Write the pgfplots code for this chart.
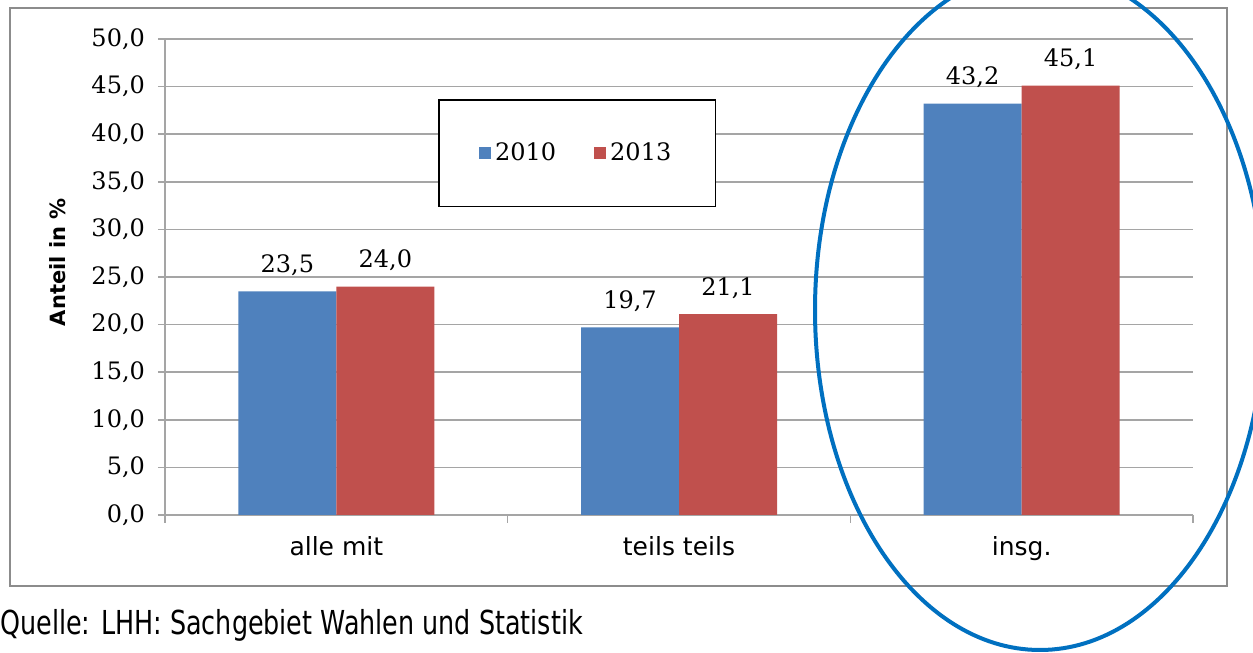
\documentclass[border=0pt]{standalone}
\usepackage{fontspec}
\setmainfont{DejaVu Serif}
\newfontfamily\sansf{DejaVu Sans}
\usepackage{pgfplots}
\pgfplotsset{compat=1.18}

\definecolor{barblue}{RGB}{79,129,189}
\definecolor{barred}{RGB}{192,80,77}
\definecolor{gridgray}{RGB}{165,165,165}
\definecolor{framegray}{RGB}{140,140,140}
\definecolor{ringblue}{RGB}{0,112,192}

\begin{document}
\begin{tikzpicture}
\useasboundingbox (0,0) rectangle (626.5pt,326.5pt);
\clip (0,0) rectangle (626.5pt,326.5pt);
\draw[framegray, line width=1.2pt] (5pt,33.5pt) rectangle (613.5pt,322.5pt);
\begin{axis}[
    at={(82.5pt,69pt)}, anchor=south west,
    scale only axis, width=514pt, height=238pt,
    ybar,
    xmin=-0.5, xmax=2.5, ymin=0, ymax=50,
    ytick={0,5,...,50},
    xtick={0,1,2}, xticklabels={alle mit, teils teils, insg.},
    minor xtick={-0.5,0.5,1.5,2.5},
    axis x line*=bottom, axis y line*=left,
    axis line style={draw=gridgray, line width=0.8pt, -},
    tick align=outside,
    major tick length=3.5pt, minor tick length=4pt,
    major x tick style={draw=none},
    minor x tick style={draw=gridgray, line width=0.6pt},
    major y tick style={draw=gridgray, line width=0.8pt},
    ymajorgrids, major grid style={gridgray, line width=0.8pt},
    /pgf/number format/.cd, fixed, fixed zerofill, precision=1, use comma, assume math mode=true,
    /pgfplots/.cd,
    yticklabel style={font=\fontsize{12}{14}\selectfont, xshift=-3pt},
    xticklabel style={font=\sansf\fontsize{12.5}{15}\selectfont, yshift=-3.5pt},
    ylabel={Anteil in \%},
    ylabel style={font=\sansf\bfseries\fontsize{10.5}{12}\selectfont,
        at={(axis description cs:-0.104,0.531)}, anchor=center},
    nodes near coords,
    every node near coord/.append style={font=\fontsize{12}{14}\selectfont,
        anchor=base, inner sep=0pt, yshift=9.5pt, text=black},
    legend columns=2,
    legend style={at={(axis description cs:0.401,0.760)}, anchor=center,
        draw=black, line width=0.7pt, inner xsep=20pt, inner ysep=19.5pt,
        font=\fontsize{12}{14}\selectfont,
        /tikz/every even column/.append style={column sep=17pt}},
]
\addplot[fill=barblue, draw=none, bar width=0.286, bar shift=-0.143,
    legend image code/.code={\fill[barblue] (0pt,-3pt) rectangle (6pt,3pt);}]
    coordinates {(0,23.5) (1,19.7) (2,43.2)};
\addplot[fill=barred, draw=none, bar width=0.286, bar shift=0.143,
    legend image code/.code={\fill[barred] (0pt,-3pt) rectangle (6pt,3pt);}]
    coordinates {(0,24.0) (1,21.1) (2,45.1)};
\legend{2010, 2013}
\end{axis}
\draw[ringblue, line width=2pt] (520pt,171.5pt) ellipse [x radius=112.5pt, y radius=170pt];
\node[anchor=base west, inner sep=0pt] at (0pt,9pt)
    {\scalebox{0.77}[1]{\sansf\fontsize{16.5}{19}\selectfont Quelle: LHH: Sachgebiet Wahlen und Statistik}};
\end{tikzpicture}
\end{document}
